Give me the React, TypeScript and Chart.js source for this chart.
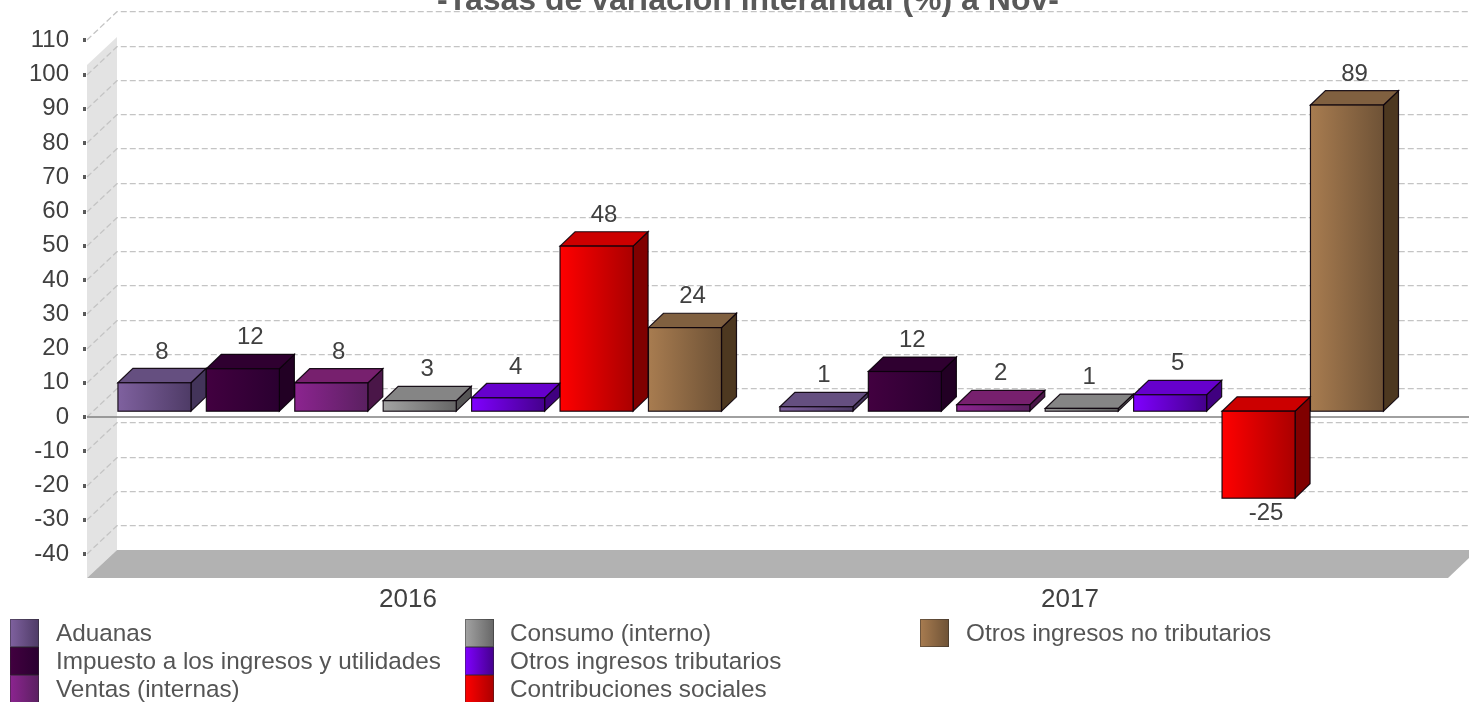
import React, { useEffect, useRef } from "react";
import { Chart, registerables } from "chart.js";

Chart.register(...registerables);

const years = ["2016", "2017"];
const seriesNames = [
  "Aduanas",
  "Impuesto a los ingresos y utilidades",
  "Ventas (internas)",
  "Consumo (interno)",
  "Otros ingresos tributarios",
  "Contribuciones sociales",
  "Otros ingresos no tributarios",
];
const aduanas = [8.3, 1.3];
const impuesto = [12.4, 11.6];
const ventas = [8.25, 1.9];
const consumo = [3.07, 0.8];
const otrosTrib = [3.9, 4.8];
const contrib = [48.2, -25.4];
const otrosNoTrib = [24.4, 89.4];
const allValues = [aduanas, impuesto, ventas, consumo, otrosTrib, contrib, otrosNoTrib];

// [front-left, front-right, top face, side face]
const palette = [
  ["#7f619f", "#4e3b66", "#654f80", "#43345a"],
  ["#420040", "#2a0030", "#2f0030", "#220024"],
  ["#8c2490", "#5a2060", "#77206e", "#4a1648"],
  ["#a3a3a3", "#666666", "#858585", "#555555"],
  ["#8000ff", "#44008c", "#6600cc", "#400080"],
  ["#ff0000", "#aa0000", "#cc0000", "#800000"],
  ["#a87c50", "#6e5236", "#806040", "#4d3820"],
];

const titleText = "-Tasas de variación interanual (%) a Nov-";
const FONT = "'Liberation Sans', Arial, sans-serif";

const threeD = {
  id: "threeD",
  beforeDatasetsDraw(chart: any) {
    const { ctx, scales } = chart;
    const y = scales.y;
    const backX = 117, frontX = 87, rightX = 1469;
    const backDy = 28.3;
    ctx.save();
    // left wall
    ctx.fillStyle = "#e3e3e3";
    ctx.beginPath();
    ctx.moveTo(frontX, 65); ctx.lineTo(backX, 37); ctx.lineTo(backX, 550); ctx.lineTo(frontX, 578);
    ctx.closePath(); ctx.fill();
    // floor
    ctx.fillStyle = "#b2b2b2";
    ctx.beginPath();
    ctx.moveTo(frontX, 578); ctx.lineTo(backX, 550); ctx.lineTo(1469, 550); ctx.lineTo(1469, 558); ctx.lineTo(1448, 578);
    ctx.closePath(); ctx.fill();
    // grid + tick marks
    for (const t of y.ticks) {
      const py = Math.round(y.getPixelForValue(t.value));
      const by = py - backDy;
      ctx.strokeStyle = "#c4c4c4";
      ctx.lineWidth = 1.3;
      ctx.setLineDash([6, 3]);
      ctx.beginPath();
      ctx.moveTo(frontX, py); ctx.lineTo(backX, by); ctx.lineTo(rightX, by);
      ctx.stroke();
      ctx.setLineDash([]);
      ctx.fillStyle = "#5a5a5a";
      ctx.fillRect(83, py - 2, 3, 4);
    }
    // zero line
    const zy = Math.round(y.getPixelForValue(0));
    ctx.strokeStyle = "#808080";
    ctx.lineWidth = 1.3;
    ctx.beginPath();
    ctx.moveTo(frontX, zy); ctx.lineTo(rightX, zy); ctx.stroke();
    ctx.restore();
  },
  beforeDatasetDraw(chart: any, args: any) {
    const { ctx } = chart;
    const meta = args.meta;
    const cols = palette[args.index];
    const dx = 11.7, dy = -5.8, depthX = 15, depthY = 14.4;
    ctx.save();
    for (const el of meta.data) {
      const p = el.getProps(["x", "y", "base", "width"], true);
      const l = p.x - p.width / 2 + dx;
      const r = p.x + p.width / 2 + dx;
      const top = Math.min(p.y, p.base) + dy;
      const bot = Math.max(p.y, p.base) + dy;
      ctx.strokeStyle = "rgba(10,0,10,0.9)";
      ctx.lineWidth = 1.2;
      ctx.lineJoin = "miter";
      // side
      ctx.fillStyle = cols[3];
      ctx.beginPath();
      ctx.moveTo(r, top); ctx.lineTo(r + depthX, top - depthY); ctx.lineTo(r + depthX, bot - depthY); ctx.lineTo(r, bot);
      ctx.closePath(); ctx.fill(); ctx.stroke();
      // top
      ctx.fillStyle = cols[2];
      ctx.beginPath();
      ctx.moveTo(l, top); ctx.lineTo(l + depthX, top - depthY); ctx.lineTo(r + depthX, top - depthY); ctx.lineTo(r, top);
      ctx.closePath(); ctx.fill(); ctx.stroke();
      // front
      const g = ctx.createLinearGradient(l, 0, r, 0);
      g.addColorStop(0, cols[0]);
      g.addColorStop(1, cols[1]);
      ctx.fillStyle = g;
      ctx.fillRect(l, top, r - l, bot - top);
      ctx.strokeRect(l, top, r - l, bot - top);
    }
    ctx.restore();
    return false;
  },
  afterDatasetsDraw(chart: any) {
    const { ctx } = chart;
    const dx = 11.7, dy = -5.8, depthY = 14.4;
    ctx.save();
    ctx.font = `24px ${FONT}`;
    ctx.fillStyle = "#404040";
    ctx.textAlign = "center";
    ctx.textBaseline = "middle";
    chart.data.datasets.forEach((ds: any, i: number) => {
      chart.getDatasetMeta(i).data.forEach((el: any, j: number) => {
        const v = ds.data[j];
        const p = el.getProps(["x", "y", "base"], true);
        const tx = p.x + dx + 7.5;
        const ty = v >= 0 ? p.y + dy - depthY - 16.5 : p.y + dy + 15.5;
        ctx.fillText(Math.round(v).toFixed(0), tx, ty);
      });
    });
    // title, cut by the top edge as in the source
    ctx.font = `bold 32px ${FONT}`;
    ctx.fillStyle = "#595959";
    ctx.textBaseline = "alphabetic";
    ctx.fillText(titleText, 748, 10);
    ctx.textBaseline = "middle";
    // legend
    const cols = [
      { sw: 10, tx: 56 },
      { sw: 465, tx: 510 },
      { sw: 920, tx: 966 },
    ];
    ctx.font = `24.3px ${FONT}`;
    ctx.textAlign = "left";
    seriesNames.forEach((name, i) => {
      const c = cols[Math.floor(i / 3)];
      const row = i % 3;
      const top = 619 + row * 28;
      const g = ctx.createLinearGradient(c.sw, 0, c.sw + 29, 0);
      g.addColorStop(0, palette[i][0]);
      g.addColorStop(1, palette[i][1]);
      ctx.fillStyle = g;
      ctx.fillRect(c.sw, top, 29, 28);
      ctx.strokeStyle = "rgba(40,40,40,0.45)";
      ctx.lineWidth = 1;
      ctx.strokeRect(c.sw + 0.5, top + 0.5, 28, 27);
      ctx.fillStyle = "#555555";
      ctx.fillText(name, c.tx, top + 15);
    });
    ctx.restore();
  },
};

export default function App() {
  const ref = useRef<HTMLCanvasElement>(null);
  useEffect(() => {
    document.body.style.margin = "0";
    const chart = new Chart(ref.current!, {
      type: "bar",
      data: {
        labels: years,
        datasets: seriesNames.map((label, i) => ({
          label,
          data: allValues[i],
          backgroundColor: palette[i][0],
          categoryPercentage: 0.935,
          barPercentage: 0.826,
        })),
      },
      options: {
        responsive: false,
        animation: false,
        layout: { padding: { top: 40.3, right: 68, left: 0, bottom: 0 } },
        plugins: { legend: { display: false }, title: { display: false }, tooltip: { enabled: false } },
        scales: {
          x: {
            grid: { display: false },
            border: { display: false },
            ticks: { color: "#404040", font: { size: 26, family: FONT }, padding: 22, maxRotation: 0 },
            afterFit(s: any) { s.height = 702 - 554; s.paddingLeft = 0; s.paddingRight = 0; },
          },
          y: {
            min: -40,
            max: 110,
            grid: { display: false, tickLength: 0 },
            border: { display: false },
            ticks: { stepSize: 10, color: "#404040", font: { size: 24, family: FONT }, padding: 8, autoSkip: false },
            afterFit(s: any) { s.width = 77; s.paddingTop = 0; s.paddingBottom = 0; },
          },
        },
      },
      plugins: [threeD],
    } as any);
    return () => chart.destroy();
  }, []);
  return <canvas ref={ref} width={1469} height={702} style={{ display: "block" }} />;
}
